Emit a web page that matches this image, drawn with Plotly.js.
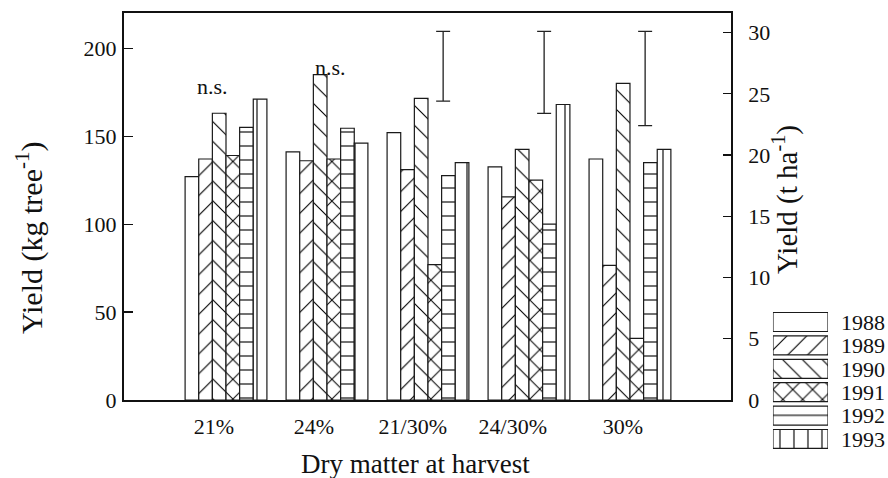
<!DOCTYPE html>
<html><head><meta charset="utf-8">
<script src="https://cdn.plot.ly/plotly-3.0.1.min.js"></script>
<style>body{margin:0;background:#fff}#chart{width:888px;height:478px}</style>
</head><body><div id="chart"></div>
<script>
// ---- data ----
const categories = ['21%', '24%', '21/30%', '24/30%', '30%'];
const years = ['1988', '1989', '1990', '1991', '1992', '1993'];
const y1988 = [127, 141, 152, 132.5, 137];
const y1989 = [137, 136, 131, 115.5, 76.5];
const y1990 = [163, 185, 171.5, 142.5, 180];
const y1991 = [139, 137, 77, 125, 35];
const y1992 = [155, 154.5, 127.5, 100, 135];
const y1993 = [171, 146, 135, 168, 142.5];
const errCats = ['21/30%', '24/30%', '30%'];
const errTop = [30.1, 30.1, 30.1];      // t ha-1
const errBottom = [24.4, 23.4, 22.4];   // t ha-1
const nsCats = ['21%', '24%'];
const nsText = ['n.s.', 'n.s.'];

const series = [y1988, y1989, y1990, y1991, y1992, y1993];
const shapes = ['', '/', '\\', 'x', '-', '|'];
const solid = [0.08, 0.08, 0.08, 0.14, 0.08, 0.08];
const FONT = 'Liberation Serif, Times New Roman, serif';
const xIdx = categories.map((c, i) => i);

const traces = series.map((vals, k) => ({
  type: 'bar', x: xIdx, y: vals, name: years[k], xaxis: 'x', yaxis: 'y',
  marker: {
    color: 'white',
    line: {color: '#1a1a1a', width: 1.2},
    pattern: {shape: shapes[k], fgcolor: '#000', bgcolor: 'white', size: 14, solidity: solid[k]}
  },
  showlegend: false, hoverinfo: 'skip'
}));

traces.push({
  type: 'scatter', mode: 'markers', xaxis: 'x', yaxis: 'y2',
  x: errCats.map(c => categories.indexOf(c) + 0.15),
  y: errTop,
  marker: {size: 1, color: 'rgba(0,0,0,0)'},
  error_y: {type: 'data', symmetric: false, array: errTop.map(() => 0),
            arrayminus: errTop.map((t, i) => t - errBottom[i]),
            color: '#222', thickness: 1.3, width: 7},
  showlegend: false, hoverinfo: 'skip'
});

// legend drawn as a small bar subplot
traces.push({
  type: 'bar', orientation: 'h', xaxis: 'x3', yaxis: 'y3',
  y: years, x: years.map(() => 1),
  marker: {
    color: 'white',
    line: {color: '#1a1a1a', width: 1.2},
    pattern: {shape: shapes, fgcolor: '#000', bgcolor: 'white', size: 14, solidity: solid}
  },
  showlegend: false, hoverinfo: 'skip'
});

const labelPos = [-0.12, 0.87, 1.85, 2.84, 3.93];
const nsPos = [[-0.13, 178], [1.03, 189]];

const layout = {
  width: 888, height: 478,
  margin: {l: 124, r: 10, t: 13, b: 20},
  paper_bgcolor: 'white', plot_bgcolor: 'white',
  font: {family: FONT, color: '#111', size: 22},
  barmode: 'group', bargap: 0.19, bargroupgap: 0,
  xaxis: {
    domain: [0, 0.805], range: [-1.01, 5.0], anchor: 'y',
    showline: true, mirror: true, linewidth: 2, linecolor: '#111',
    ticks: '', tickmode: 'array', tickvals: labelPos, ticktext: categories,
    tickfont: {size: 22, family: FONT}, showgrid: false, zeroline: false,
    ticklabelstandoff: 6
  },
  yaxis: {
    domain: [0.1303, 1], range: [0, 220], anchor: 'x',
    showline: true, linewidth: 2, linecolor: '#111',
    ticks: 'inside', ticklen: 9, tickwidth: 1.2, tickcolor: '#111',
    tickmode: 'array', tickvals: [0, 50, 100, 150, 200],
    tickfont: {size: 22, family: FONT}, showgrid: false, zeroline: false,
    ticklabelstandoff: 1
  },
  yaxis2: {
    overlaying: 'y', side: 'right', anchor: 'x', range: [0, 31.6],
    showline: true, linewidth: 2, linecolor: '#111',
    ticks: 'inside', ticklen: 8, tickwidth: 1.2, tickcolor: '#111',
    tickmode: 'array', tickvals: [0, 5, 10, 15, 20, 25, 30],
    tickfont: {size: 22, family: FONT}, showgrid: false, zeroline: false,
    ticklabelstandoff: 11
  },
  xaxis3: {domain: [0.8607, 0.9337], range: [0, 1], anchor: 'y3', visible: false, fixedrange: true},
  yaxis3: {
    domain: [0.0164, 0.3319], anchor: 'x3', type: 'category', autorange: 'reversed',
    side: 'right', ticks: '', showline: false, showgrid: false, zeroline: false,
    tickmode: 'array', tickvals: years, ticktext: years,
    tickfont: {size: 22, family: FONT}, ticklabelstandoff: 12
  },
  annotations: [
    {text: 'Yield (kg tree<sup>-1</sup>)', xref: 'paper', yref: 'paper',
     x: (29 - 124) / 754, y: (458 - 238) / 445, xanchor: 'center', yanchor: 'middle',
     textangle: -90, showarrow: false, font: {size: 30, family: FONT}},
    {text: 'Yield (t ha<sup>-1</sup>)', xref: 'paper', yref: 'paper',
     x: (785 - 124) / 754, y: (458 - 200) / 445, xanchor: 'center', yanchor: 'middle',
     textangle: -90, showarrow: false, font: {size: 29, family: FONT}},
    {text: 'Dry matter at harvest', xref: 'paper', yref: 'paper',
     x: (415 - 124) / 754, y: (458 - 464) / 445, xanchor: 'center', yanchor: 'middle',
     showarrow: false, font: {size: 27, family: FONT}}
  ].concat(nsCats.map((c, i) => ({
    text: nsText[i], xref: 'x', yref: 'y', x: nsPos[i][0], y: nsPos[i][1],
    xanchor: 'center', yanchor: 'middle', showarrow: false, font: {size: 22, family: FONT}
  })))
};

Plotly.newPlot('chart', traces, layout, {staticPlot: true, displayModeBar: false});
</script>
</body></html>
